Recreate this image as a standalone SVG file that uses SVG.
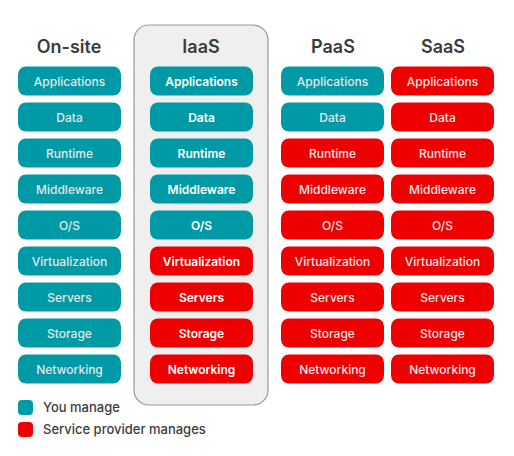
<svg xmlns="http://www.w3.org/2000/svg" width="514" height="456" viewBox="0 0 514 456">
  <style>
    .head { font-family: Inter, "Liberation Sans", sans-serif; font-size: 18px; font-weight: 600; fill: #3c3c3c; text-anchor: middle; }
    .you rect { fill: #009aa6; }
    .sp rect { fill: #ee0000; }
    .cell text { font-family: Inter, "Liberation Sans", sans-serif; font-size: 12px; font-weight: 500; fill: #e6e6e6; text-anchor: middle; dominant-baseline: central; }
    .strong text { fill: #ffffff; font-weight: 600; }
    .legend { font-family: Inter, "Liberation Sans", sans-serif; font-size: 13px; font-weight: 500; fill: #3c3c3c; }
  </style>
  <rect width="514" height="456" fill="#ffffff"/>

  <!-- IaaS highlight panel -->
  <rect id="iaas-panel" x="134" y="25" width="134" height="380" rx="15" fill="#efefef" stroke="#9a9a9a" stroke-width="1.2"/>

  <!-- Column headings -->
  <text class="head" x="69" y="53">On-site</text>
  <text class="head" x="201" y="53">IaaS</text>
  <text class="head" x="333" y="53">PaaS</text>
  <text class="head" x="443" y="53">SaaS</text>

  <!-- On-site column -->
  <g id="onsite">
    <g class="cell you" transform="translate(18,81)"><rect x="0" y="-14.5" width="103" height="29" rx="8"/><text x="51.5" y="0.5">Applications</text></g>
    <g class="cell you" transform="translate(18,117)"><rect x="0" y="-14.5" width="103" height="29" rx="8"/><text x="51.5" y="0.5">Data</text></g>
    <g class="cell you" transform="translate(18,153)"><rect x="0" y="-14.5" width="103" height="29" rx="8"/><text x="51.5" y="0.5">Runtime</text></g>
    <g class="cell you" transform="translate(18,189)"><rect x="0" y="-14.5" width="103" height="29" rx="8"/><text x="51.5" y="0.5">Middleware</text></g>
    <g class="cell you" transform="translate(18,225)"><rect x="0" y="-14.5" width="103" height="29" rx="8"/><text x="51.5" y="0.5">O/S</text></g>
    <g class="cell you" transform="translate(18,261)"><rect x="0" y="-14.5" width="103" height="29" rx="8"/><text x="51.5" y="0.5">Virtualization</text></g>
    <g class="cell you" transform="translate(18,297)"><rect x="0" y="-14.5" width="103" height="29" rx="8"/><text x="51.5" y="0.5">Servers</text></g>
    <g class="cell you" transform="translate(18,333)"><rect x="0" y="-14.5" width="103" height="29" rx="8"/><text x="51.5" y="0.5">Storage</text></g>
    <g class="cell you" transform="translate(18,369)"><rect x="0" y="-14.5" width="103" height="29" rx="8"/><text x="51.5" y="0.5">Networking</text></g>
  </g>

  <!-- IaaS column -->
  <g id="iaas">
    <g class="cell you strong" transform="translate(150,81)"><rect x="0" y="-14.5" width="103" height="29" rx="8"/><text x="51.5" y="0.5">Applications</text></g>
    <g class="cell you strong" transform="translate(150,117)"><rect x="0" y="-14.5" width="103" height="29" rx="8"/><text x="51.5" y="0.5">Data</text></g>
    <g class="cell you strong" transform="translate(150,153)"><rect x="0" y="-14.5" width="103" height="29" rx="8"/><text x="51.5" y="0.5">Runtime</text></g>
    <g class="cell you strong" transform="translate(150,189)"><rect x="0" y="-14.5" width="103" height="29" rx="8"/><text x="51.5" y="0.5">Middleware</text></g>
    <g class="cell you strong" transform="translate(150,225)"><rect x="0" y="-14.5" width="103" height="29" rx="8"/><text x="51.5" y="0.5">O/S</text></g>
    <g class="cell sp strong" transform="translate(150,261)"><rect x="0" y="-14.5" width="103" height="29" rx="8"/><text x="51.5" y="0.5">Virtualization</text></g>
    <g class="cell sp strong" transform="translate(150,297)"><rect x="0" y="-14.5" width="103" height="29" rx="8"/><text x="51.5" y="0.5">Servers</text></g>
    <g class="cell sp strong" transform="translate(150,333)"><rect x="0" y="-14.5" width="103" height="29" rx="8"/><text x="51.5" y="0.5">Storage</text></g>
    <g class="cell sp strong" transform="translate(150,369)"><rect x="0" y="-14.5" width="103" height="29" rx="8"/><text x="51.5" y="0.5">Networking</text></g>
  </g>

  <!-- PaaS column -->
  <g id="paas">
    <g class="cell you" transform="translate(281,81)"><rect x="0" y="-14.5" width="103" height="29" rx="8"/><text x="51.5" y="0.5">Applications</text></g>
    <g class="cell you" transform="translate(281,117)"><rect x="0" y="-14.5" width="103" height="29" rx="8"/><text x="51.5" y="0.5">Data</text></g>
    <g class="cell sp" transform="translate(281,153)"><rect x="0" y="-14.5" width="103" height="29" rx="8"/><text x="51.5" y="0.5">Runtime</text></g>
    <g class="cell sp" transform="translate(281,189)"><rect x="0" y="-14.5" width="103" height="29" rx="8"/><text x="51.5" y="0.5">Middleware</text></g>
    <g class="cell sp" transform="translate(281,225)"><rect x="0" y="-14.5" width="103" height="29" rx="8"/><text x="51.5" y="0.5">O/S</text></g>
    <g class="cell sp" transform="translate(281,261)"><rect x="0" y="-14.5" width="103" height="29" rx="8"/><text x="51.5" y="0.5">Virtualization</text></g>
    <g class="cell sp" transform="translate(281,297)"><rect x="0" y="-14.5" width="103" height="29" rx="8"/><text x="51.5" y="0.5">Servers</text></g>
    <g class="cell sp" transform="translate(281,333)"><rect x="0" y="-14.5" width="103" height="29" rx="8"/><text x="51.5" y="0.5">Storage</text></g>
    <g class="cell sp" transform="translate(281,369)"><rect x="0" y="-14.5" width="103" height="29" rx="8"/><text x="51.5" y="0.5">Networking</text></g>
  </g>

  <!-- SaaS column -->
  <g id="saas">
    <g class="cell sp" transform="translate(391,81)"><rect x="0" y="-14.5" width="103" height="29" rx="8"/><text x="51.5" y="0.5">Applications</text></g>
    <g class="cell sp" transform="translate(391,117)"><rect x="0" y="-14.5" width="103" height="29" rx="8"/><text x="51.5" y="0.5">Data</text></g>
    <g class="cell sp" transform="translate(391,153)"><rect x="0" y="-14.5" width="103" height="29" rx="8"/><text x="51.5" y="0.5">Runtime</text></g>
    <g class="cell sp" transform="translate(391,189)"><rect x="0" y="-14.5" width="103" height="29" rx="8"/><text x="51.5" y="0.5">Middleware</text></g>
    <g class="cell sp" transform="translate(391,225)"><rect x="0" y="-14.5" width="103" height="29" rx="8"/><text x="51.5" y="0.5">O/S</text></g>
    <g class="cell sp" transform="translate(391,261)"><rect x="0" y="-14.5" width="103" height="29" rx="8"/><text x="51.5" y="0.5">Virtualization</text></g>
    <g class="cell sp" transform="translate(391,297)"><rect x="0" y="-14.5" width="103" height="29" rx="8"/><text x="51.5" y="0.5">Servers</text></g>
    <g class="cell sp" transform="translate(391,333)"><rect x="0" y="-14.5" width="103" height="29" rx="8"/><text x="51.5" y="0.5">Storage</text></g>
    <g class="cell sp" transform="translate(391,369)"><rect x="0" y="-14.5" width="103" height="29" rx="8"/><text x="51.5" y="0.5">Networking</text></g>
  </g>

  <!-- No connectors in this chart -->
  <g id="connectors"/>

  <!-- Legend -->
  <g id="legend">
    <rect x="18" y="400" width="15" height="15" rx="4" fill="#009aa6"/>
    <text class="legend" x="43" y="412">You manage</text>
    <rect x="18" y="422" width="15" height="15" rx="4" fill="#ee0000"/>
    <text class="legend" x="43" y="434">Service provider manages</text>
  </g>
</svg>
